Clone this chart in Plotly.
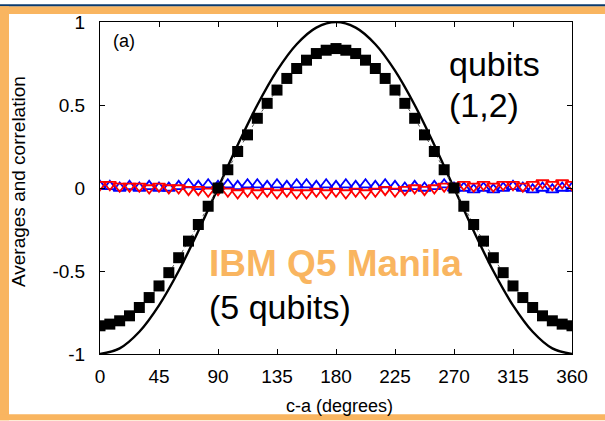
import plotly.graph_objects as go

# ---------------- data ----------------
angles = [i * 7.5 for i in range(49)]  # 0 ... 360 degrees

corr = [-0.83, -0.82, -0.80, -0.77, -0.72, -0.66, -0.59, -0.51, -0.42, -0.32, -0.22, -0.11, 0.00,
        0.11, 0.22, 0.32, 0.42, 0.51, 0.59, 0.66, 0.72, 0.77, 0.81, 0.83,
        0.84,
        0.83, 0.81, 0.77, 0.72, 0.66, 0.59, 0.51, 0.42, 0.32, 0.22, 0.11, 0.00,
        -0.11, -0.22, -0.32, -0.42, -0.51, -0.59, -0.66, -0.72, -0.77, -0.80, -0.82, -0.83]

avg_a = [0.01, 0.01, 0.00, 0.01, 0.00, 0.01, 0.00, 0.00, 0.01, 0.02, 0.01, 0.02, 0.01,
         0.02, 0.01, 0.02, 0.02, 0.01, 0.02, 0.01, 0.02, 0.02, 0.01, 0.02,
         0.01,
         0.02, 0.01, 0.02, 0.01, 0.02, 0.01, 0.00, 0.01, 0.00, 0.01, 0.02, 0.00,
         0.00, -0.01, 0.00, -0.01, 0.00, 0.01, 0.00, -0.01, 0.00, -0.01, 0.00, 0.00]

avg_b = [0.02, 0.02, 0.01, 0.01, 0.01, 0.00, 0.01, 0.00, 0.00, -0.01, -0.01, -0.02, -0.01,
         -0.02, -0.03, -0.02, -0.03, -0.02, -0.03, -0.02, -0.03, -0.03, -0.02, -0.03,
         -0.02,
         -0.03, -0.02, -0.03, -0.02, -0.01, -0.02, -0.01, 0.00, -0.01, 0.00, 0.01, 0.01,
         0.02, 0.01, 0.02, 0.01, 0.02, 0.02, 0.01, 0.02, 0.03, 0.02, 0.03, 0.02]

theory_angles = [i * 15 for i in range(25)]
theory = [-1.0, -0.966, -0.866, -0.707, -0.5, -0.259, 0.0, 0.259, 0.5, 0.707, 0.866, 0.966, 1.0,
          0.966, 0.866, 0.707, 0.5, 0.259, 0.0, -0.259, -0.5, -0.707, -0.866, -0.966, -1.0]

x_ticks = [0, 45, 90, 135, 180, 225, 270, 315, 360]
y_ticks = [-1, -0.5, 0, 0.5, 1]
y_tick_labels = ["-1", "-0.5", "0", "0.5", "1"]

# ---------------- layout geometry (pixels) ----------------
W, H = 605, 421
L, R, T, B = 100, 572, 18, 354


def px(xp):
    return (xp - L) / (R - L)


def py(yp):
    return (B - yp) / (B - T)


ORANGE = "#F9B560"
FONT = "Liberation Sans, Arial, sans-serif"

fig = go.Figure()

fig.add_trace(go.Scatter(x=angles, y=avg_a, mode="markers",
                         marker=dict(symbol="triangle-up-open", size=11, color="#0000FF",
                                     line=dict(width=1.8, color="#0000FF")),
                         showlegend=False))
fig.add_trace(go.Scatter(x=angles, y=avg_b, mode="markers",
                         marker=dict(symbol="triangle-down-open", size=11, color="#FF0000",
                                     line=dict(width=1.8, color="#FF0000")),
                         showlegend=False))
fig.add_trace(go.Scatter(x=theory_angles, y=theory, mode="lines",
                         line=dict(color="black", width=2.4, shape="spline", smoothing=1.0),
                         showlegend=False))
fig.add_trace(go.Scatter(x=angles, y=corr, mode="lines+markers",
                         line=dict(color="#555555", width=1, dash="dot"),
                         marker=dict(symbol="square", size=11, color="black"),
                         showlegend=False))

axis_common = dict(showline=True, linecolor="black", linewidth=1, mirror="ticks",
                   ticks="inside", ticklen=5, tickcolor="black", tickwidth=1,
                   showgrid=False, zeroline=False,
                   tickfont=dict(family=FONT, size=19, color="black"))

fig.update_xaxes(range=[0, 360], tickvals=x_ticks, ticklabelstandoff=5, **axis_common)
fig.update_yaxes(range=[-1, 1], tickvals=y_ticks, ticktext=y_tick_labels,
                 ticklabelstandoff=10, **axis_common)

annotations = [
    dict(text="Averages and correlation", x=px(18), y=py(180), textangle=-90,
         font=dict(family=FONT, size=19, color="black")),
    dict(text="c-a (degrees)", x=px(339), y=py(407),
         font=dict(family=FONT, size=18, color="black")),
    dict(text="(a)", x=px(124), y=py(37),
         font=dict(family=FONT, size=18, color="black")),
    dict(text="qubits", x=px(447), y=py(61), xanchor="left",
         font=dict(family=FONT, size=34, color="black")),
    dict(text="(1,2)", x=px(447), y=py(102), xanchor="left",
         font=dict(family=FONT, size=34, color="black")),
    dict(text="<b>IBM Q5 Manila</b>", x=px(207), y=py(262), xanchor="left",
         font=dict(family=FONT, size=37, color=ORANGE)),
    dict(text="(5 qubits)", x=px(207), y=py(306), xanchor="left",
         font=dict(family=FONT, size=34, color="black")),
]
for a in annotations:
    a.update(xref="paper", yref="paper", showarrow=False, xanchor=a.get("xanchor", "center"),
             yanchor="middle")

shapes = [
    # orange frame (top, left, bottom) and dark blue top line
    dict(type="rect", x0=px(0), x1=px(W), y0=py(2), y1=py(10), fillcolor=ORANGE, line_width=0),
    dict(type="rect", x0=px(0), x1=px(W), y0=py(0), y1=py(2), fillcolor="#0B3B6E", line_width=0),
    dict(type="rect", x0=px(0), x1=px(9), y0=py(H), y1=py(2), fillcolor=ORANGE, line_width=0),
    dict(type="rect", x0=px(0), x1=px(W), y0=py(H), y1=py(415), fillcolor=ORANGE, line_width=0),
]
for s in shapes:
    s.update(xref="paper", yref="paper", layer="above")

fig.update_layout(width=W, height=H,
                  margin=dict(l=L, r=W - R, t=T, b=H - B, pad=0),
                  paper_bgcolor="white", plot_bgcolor="white",
                  annotations=annotations, shapes=shapes,
                  showlegend=False)

fig.write_html("out.html")
